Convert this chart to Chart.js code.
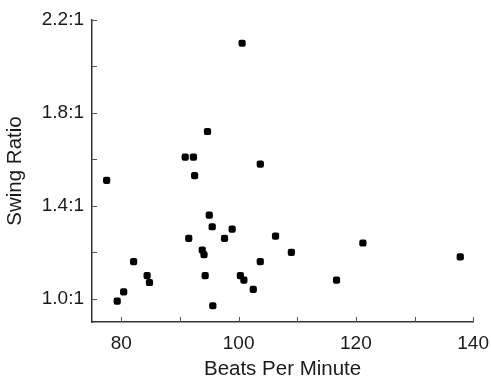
<!DOCTYPE html>
<html>
<head>
<meta charset="utf-8">
<script src="https://cdn.jsdelivr.net/npm/chart.js@4/dist/chart.umd.min.js"></script>
<style>
  html, body { margin: 0; padding: 0; background: #fff; }
  #wrap { width: 491px; height: 379px; }
</style>
</head>
<body>
<div id="wrap"><canvas id="c" width="491" height="379"></canvas></div>
<script>
// Data
const bpm   = [100.6, 94.7, 90.9, 92.3, 92.5, 103.7, 77.5, 95.0, 95.5, 91.5,
               97.6, 98.9, 106.3, 93.8, 94.1, 82.1, 84.4, 84.8, 80.4, 79.3,
               94.3, 95.6, 100.3, 100.9, 102.5, 103.7, 109.0, 121.2, 116.7, 137.8];
const swing = [2.10, 1.72, 1.61, 1.61, 1.53, 1.58, 1.51, 1.36, 1.31, 1.26,
               1.26, 1.30, 1.27, 1.21, 1.19, 1.16, 1.10, 1.07, 1.03, 0.99,
               1.10, 0.97, 1.10, 1.08, 1.04, 1.16, 1.20, 1.24, 1.08, 1.18];

const xLabelTicks = [80, 100, 120, 140];
const xMinorTicks = [80, 90, 100, 110, 120, 130, 140];
const yLabelTicks = [1.0, 1.4, 1.8, 2.2];
const yMinorTicks = [1.0, 1.2, 1.4, 1.6, 1.8, 2.0, 2.2];

const FONT = "'Liberation Sans', Arial, Helvetica, sans-serif";
const TEXT = '#1a1a1a';
const AXIS = '#333333';

const innerTicks = {
  id: 'innerTicks',
  afterDraw(chart) {
    const ctx = chart.ctx;
    const xs = chart.scales.x, ys = chart.scales.y;
    const a = chart.chartArea;
    ctx.save();
    ctx.strokeStyle = '#555';
    ctx.lineWidth = 1;
    ctx.beginPath();
    xMinorTicks.forEach(v => {
      const px = Math.round(xs.getPixelForValue(v)) + 0.5;
      ctx.moveTo(px, a.bottom);
      ctx.lineTo(px, a.bottom - 5);
    });
    yMinorTicks.forEach(v => {
      const py = Math.round(ys.getPixelForValue(v)) + 0.5;
      ctx.moveTo(a.left, py);
      ctx.lineTo(a.left + 5, py);
    });
    ctx.stroke();
    ctx.restore();
  }
};

const points = bpm.map((x, i) => ({ x: x, y: swing[i] }));

new Chart(document.getElementById('c'), {
  type: 'scatter',
  data: {
    datasets: [{
      data: points,
      backgroundColor: '#000',
      borderColor: '#000',
      borderWidth: 0,
      pointStyle: 'rectRounded',
      pointRadius: 4.2,
      pointHoverRadius: 4.2
    }]
  },
  options: {
    responsive: false,
    animation: false,
    devicePixelRatio: 1,
    layout: { padding: { top: 20, right: 16, bottom: 0, left: 0 } },
    plugins: { legend: { display: false }, tooltip: { enabled: false } },
    scales: {
      x: {
        type: 'linear',
        min: 75, max: 140,
        afterBuildTicks: s => { s.ticks = xLabelTicks.map(v => ({ value: v })); },
        afterFit: s => { s.height = 57; },
        grid: { display: false },
        border: { display: true, color: AXIS, width: 1.5 },
        ticks: { color: TEXT, font: { family: FONT, size: 19 }, padding: 2, maxRotation: 0 },
        title: { display: true, text: 'Beats Per Minute', color: TEXT,
                 font: { family: FONT, size: 20.5, lineHeight: 0.9 }, padding: { top: 0, bottom: 0 } }
      },
      y: {
        type: 'linear',
        min: 0.9, max: 2.2,
        afterBuildTicks: s => { s.ticks = yLabelTicks.map(v => ({ value: v })); },
        afterFit: s => { s.width = 92; },
        grid: { display: false },
        border: { display: true, color: AXIS, width: 1.5 },
        ticks: { color: TEXT, font: { family: FONT, size: 19 }, padding: 0,
                 callback: v => v.toFixed(1) + ':1' },
        title: { display: true, text: 'Swing Ratio', color: TEXT,
                 font: { family: FONT, size: 20.5, lineHeight: 0.9 }, padding: { top: 6, bottom: 0 } }
      }
    }
  },
  plugins: [innerTicks]
});
</script>
</body>
</html>
